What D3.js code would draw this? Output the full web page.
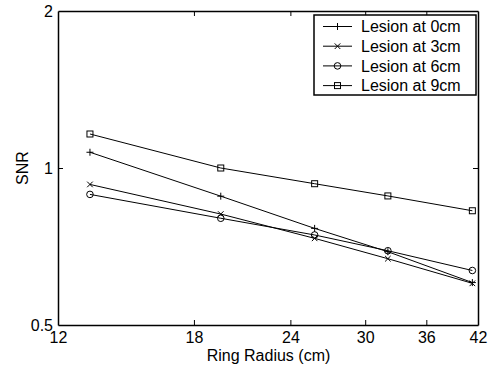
<!DOCTYPE html>
<html>
<head>
<meta charset="utf-8">
<script src="https://cdn.jsdelivr.net/npm/d3@7"></script>
<style>
  html, body { margin: 0; padding: 0; background: #fff; }
  svg { display: block; font-family: "Liberation Sans", Arial, Helvetica, sans-serif; }
</style>
</head>
<body>
<svg id="chart" width="489" height="366"></svg>
<script>
// Ring radius (cm) at which SNR was evaluated
const radii = [13.2, 19.5, 25.8, 32.1, 41.3];

// SNR for each lesion position
const snr0cm = [1.072, 0.883, 0.766, 0.691, 0.603];
const snr3cm = [0.930, 0.816, 0.733, 0.670, 0.601];
const snr6cm = [0.890, 0.801, 0.744, 0.694, 0.636];
const snr9cm = [1.162, 1.000, 0.933, 0.884, 0.828];

const seriesNames = ["Lesion at 0cm", "Lesion at 3cm", "Lesion at 6cm", "Lesion at 9cm"];
const seriesMarkers = ["plus", "cross", "circle", "square"];

const xTicks = [12, 18, 24, 30, 36, 42];
const yTicks = [0.5, 1, 2];

const series = [snr0cm, snr3cm, snr6cm, snr9cm].map((vals, i) => ({
  name: seriesNames[i],
  marker: seriesMarkers[i],
  points: radii.map((r, j) => ({ x: r, y: vals[j] }))
}));

const svg = d3.select("#chart");
const plot = { left: 58, top: 11, right: 478, bottom: 325 };

const x = d3.scaleLog().domain([12, 42]).range([plot.left, plot.right]);
const y = d3.scaleLog().domain([0.5, 2]).range([plot.bottom, plot.top]);

const fmt = d => String(d);
const tickLen = 5;

// Axes: bottom/left carry labels, top/right mirror the ticks inward
const axisStyle = g => {
  g.selectAll("path.domain").attr("stroke", "#000").attr("stroke-width", 1.5);
  g.selectAll(".tick line").attr("stroke", "#000").attr("stroke-width", 1);
  g.selectAll(".tick text").attr("fill", "#000").style("font-size", "16px");
};

svg.append("g")
  .attr("transform", `translate(0,${plot.bottom})`)
  .call(d3.axisBottom(x).tickValues(xTicks).tickFormat(fmt).tickSize(-tickLen).tickSizeOuter(0).tickPadding(7))
  .call(axisStyle)
  .call(g => g.selectAll(".tick text").attr("dy", "0.71em"));

svg.append("g")
  .attr("transform", `translate(0,${plot.top})`)
  .call(d3.axisTop(x).tickValues(xTicks).tickFormat("").tickSize(-tickLen).tickSizeOuter(0))
  .call(axisStyle);

svg.append("g")
  .attr("transform", `translate(${plot.left},0)`)
  .call(d3.axisLeft(y).tickValues(yTicks).tickFormat(fmt).tickSize(-tickLen).tickSizeOuter(0).tickPadding(5))
  .call(axisStyle);

svg.append("g")
  .attr("transform", `translate(${plot.right},0)`)
  .call(d3.axisRight(y).tickValues(yTicks).tickFormat("").tickSize(-tickLen).tickSizeOuter(0))
  .call(axisStyle);

// Hide edge ticks that coincide with the frame
svg.selectAll(".tick").filter(d => d === 12 || d === 42 || d === 0.5 || d === 2)
  .select("line").attr("stroke-opacity", 0);

// Axis titles
svg.append("text")
  .attr("x", (plot.left + plot.right) / 2 + 0.5)
  .attr("y", 361)
  .attr("text-anchor", "middle")
  .style("font-size", "16px")
  .text("Ring Radius (cm)");

svg.append("text")
  .attr("transform", `translate(28,${(plot.top + plot.bottom) / 2}) rotate(-90)`)
  .attr("text-anchor", "middle")
  .style("font-size", "16px")
  .text("SNR");

// Marker drawing
function drawMarker(g, type, cx, cy) {
  const s = 3.5;
  if (type === "plus") {
    g.append("path").attr("d", `M${cx - s},${cy}H${cx + s}M${cx},${cy - s}V${cy + s}`)
      .attr("stroke", "#000").attr("stroke-width", 1).attr("fill", "none");
  } else if (type === "cross") {
    const t = 2.8;
    g.append("path").attr("d", `M${cx - t},${cy - t}L${cx + t},${cy + t}M${cx - t},${cy + t}L${cx + t},${cy - t}`)
      .attr("stroke", "#000").attr("stroke-width", 1).attr("fill", "none");
  } else if (type === "circle") {
    g.append("circle").attr("cx", cx).attr("cy", cy).attr("r", 3.3)
      .attr("stroke", "#000").attr("stroke-width", 1).attr("fill", "none");
  } else if (type === "square") {
    g.append("rect").attr("x", cx - 3).attr("y", cy - 3).attr("width", 6).attr("height", 6)
      .attr("stroke", "#000").attr("stroke-width", 1).attr("fill", "none");
  }
}

const line = d3.line().x(d => x(d.x)).y(d => y(d.y));

series.forEach(s => {
  const g = svg.append("g");
  g.append("path").datum(s.points).attr("d", line)
    .attr("fill", "none").attr("stroke", "#000").attr("stroke-width", 1);
  s.points.forEach(p => drawMarker(g, s.marker, x(p.x), y(p.y)));
});

// Legend
const legend = { left: 314, top: 15, right: 476, bottom: 95, rowStart: 26.5, rowStep: 19.7 };
svg.append("rect")
  .attr("x", legend.left).attr("y", legend.top)
  .attr("width", legend.right - legend.left).attr("height", legend.bottom - legend.top)
  .attr("fill", "#fff").attr("stroke", "#000").attr("stroke-width", 1.5);

series.forEach((s, i) => {
  const ry = legend.rowStart + i * legend.rowStep;
  const g = svg.append("g");
  g.append("line").attr("x1", 323).attr("x2", 352).attr("y1", ry).attr("y2", ry)
    .attr("stroke", "#000").attr("stroke-width", 1);
  drawMarker(g, s.marker, 337.5, ry);
  g.append("text").attr("x", 361).attr("y", ry).attr("dy", "0.35em")
    .style("font-size", "16px").text(s.name);
});
</script>
</body>
</html>
